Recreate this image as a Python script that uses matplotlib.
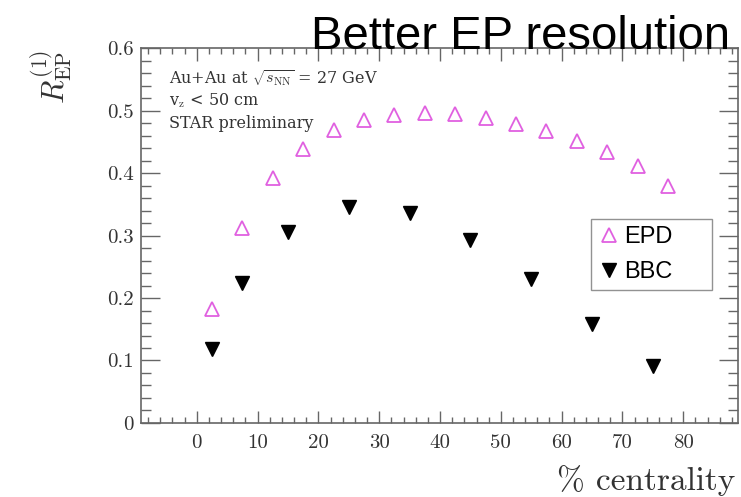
import matplotlib
matplotlib.use("Agg")
import matplotlib.pyplot as plt
from matplotlib.ticker import MultipleLocator, FuncFormatter

# EPD resolution, 5% centrality bins
epd_cent = [2.5, 7.5, 12.5, 17.5, 22.5, 27.5, 32.5, 37.5, 42.5, 47.5, 52.5, 57.5, 62.5, 67.5, 72.5, 77.5]
epd_res = [0.182, 0.312, 0.392, 0.438, 0.469, 0.485, 0.493, 0.496, 0.494, 0.488, 0.478, 0.467, 0.451, 0.434, 0.411, 0.379]

# BBC resolution
bbc_cent = [2.5, 7.5, 15, 25, 35, 45, 55, 65, 75]
bbc_res = [0.118, 0.224, 0.306, 0.346, 0.336, 0.293, 0.230, 0.158, 0.091]

y_ticks = [0, 0.1, 0.2, 0.3, 0.4, 0.5, 0.6]
x_ticks = [0, 10, 20, 30, 40, 50, 60, 70, 80]

plt.rcParams['mathtext.fontset'] = 'cm'

fig = plt.figure(figsize=(7.41, 4.97), dpi=100)
ax = fig.add_axes([0.190, 0.149, 0.806, 0.754])

ax.plot(epd_cent, epd_res, linestyle='none', marker='^', markersize=10,
        markerfacecolor='none', markeredgecolor='#e060e0', markeredgewidth=1.3, label='EPD')
ax.plot(bbc_cent, bbc_res, linestyle='none', marker='v', markersize=10,
        color='black', label='BBC')

ax.set_xlim(-9.2, 89)
ax.set_ylim(0, 0.6)
ax.set_xticks(x_ticks)
ax.set_yticks(y_ticks)
ax.xaxis.set_minor_locator(MultipleLocator(2))
ax.yaxis.set_minor_locator(MultipleLocator(0.02))
ax.yaxis.set_major_formatter(FuncFormatter(lambda v, p: '0' if v == 0 else f'{v:.1f}'))

for s in ax.spines.values():
    s.set_color('#666666')
    s.set_linewidth(1.2)

ax.tick_params(axis='both', which='both', direction='in', colors='#666666',
               labelcolor='#333333', width=1.0)
ax.tick_params(axis='x', which='both', top=True, bottom=True)
ax.tick_params(axis='y', which='both', left=True, right=True)
ax.tick_params(axis='x', which='major', length=9, pad=8)
ax.tick_params(axis='x', which='minor', length=4.5)
ax.tick_params(axis='y', which='major', length=14, pad=5)
ax.tick_params(axis='y', which='minor', length=7)
for lab in ax.get_xticklabels() + ax.get_yticklabels():
    lab.set_family('cmr10')
    lab.set_fontsize(15)

ax.set_xlabel('% centrality', family='cmr10', fontsize=24, color='#333333')
ax.xaxis.set_label_coords(0.995, -0.179)
ax.xaxis.label.set_horizontalalignment('right')
ax.xaxis.label.set_verticalalignment('baseline')
ax.set_ylabel(r'$R_{\rm EP}^{(1)}$', fontsize=22, color='#333333')
ax.yaxis.set_label_coords(-0.11, 0.923)

note_kw = dict(transform=ax.transAxes, family='DejaVu Serif', fontsize=11.5,
               color='#333333', va='center')
ax.text(0.048, 0.92, r'Au+Au at $\sqrt{s_{\rm NN}}$ = 27 GeV', **note_kw)
ax.text(0.048, 0.861, r'v$_{\rm z}$ < 50 cm', **note_kw)
ax.text(0.048, 0.80, 'STAR preliminary', **note_kw)

leg = ax.legend(loc='upper left', bbox_to_anchor=(0.754, 0.544, 0.203, 0.0), mode='expand',
                prop={'family': 'Liberation Sans', 'size': 17},
                frameon=True, fancybox=False, handletextpad=0.2, handlelength=0.9,
                borderpad=0.3, labelspacing=0.55, borderaxespad=0)
leg.get_frame().set_edgecolor('#777777')
leg.get_frame().set_linewidth(1.0)

fig.text(0.985, 0.97, 'Better EP resolution', ha='right', va='top',
         family='Liberation Sans', fontsize=34, color='black')

fig.savefig('out.png', dpi=100)
